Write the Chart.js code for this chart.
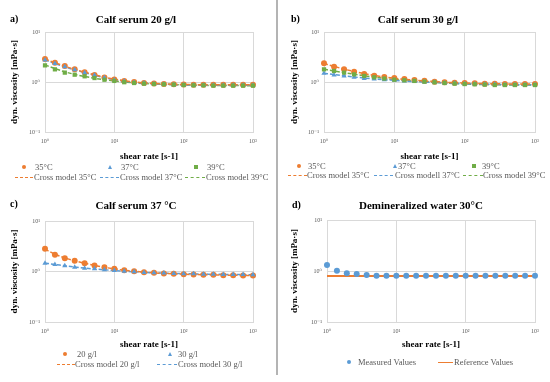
<!DOCTYPE html>
<html>
<head>
<meta charset="utf-8">
<script src="https://cdn.jsdelivr.net/npm/chart.js@4.4.0/dist/chart.umd.min.js"></script>
<style>
  body { margin: 0; width: 550px; height: 382px; background: #fff; position: relative; overflow: hidden;
         font-family: 'Liberation Serif', 'DejaVu Serif', serif; }
  canvas { position: absolute; }
  .letter { position: absolute; font-weight: bold; font-size: 10px; color: #000; line-height: 12px; }
  .title { position: absolute; width: 200px; text-align: center; font-weight: bold; font-size: 11px; color: #000; line-height: 14px; }
  .lg { position: absolute; font-size: 8.5px; color: #595959; white-space: nowrap; line-height: 10px; }
  .mk { position: absolute; }
  .divider { position: absolute; left: 276px; top: 0; width: 1.5px; height: 375px; background: #b4b4b4; }
</style>
</head>
<body>
<div class="divider"></div>
<canvas id="chartA" width="275" height="162" style="left:0;top:0"></canvas>
<canvas id="chartB" width="270" height="162" style="left:280px;top:0"></canvas>
<canvas id="chartC" width="275" height="161" style="left:0;top:189px"></canvas>
<canvas id="chartD" width="270" height="161" style="left:280px;top:189px"></canvas>
<div class="letter" style="left:10px;top:13px">a)</div>
<div class="letter" style="left:291px;top:13px">b)</div>
<div class="letter" style="left:10px;top:198px">c)</div>
<div class="letter" style="left:292px;top:199px">d)</div>
<div class="title" style="left:36px;top:12px">Calf serum 20 g/l</div>
<div class="title" style="left:318px;top:12px">Calf serum 30 g/l</div>
<div class="title" style="left:36px;top:198px">Calf serum 37 °C</div>
<div class="title" style="left:321px;top:198px">Demineralized water 30°C</div>
<script>
// shear rate [s-1], 22 points per measurement
const shearRate = [1, 1.39, 1.93, 2.68, 3.73, 5.18, 7.2, 10, 13.9, 19.3, 26.8, 37.3, 51.8, 72, 100, 139, 193, 268, 373, 518, 720, 1000];
const tickX = [1, 10, 100, 1000];
const tickY = [0.1, 1, 10];
const tickText = { '-1': '10⁻¹', '0': '10⁰', '1': '10¹', '2': '10²', '3': '10³' };

// a) calf serum 20 g/l
const a35 = [2.9, 2.42, 2.08, 1.8, 1.56, 1.38, 1.23, 1.12, 1.05, 1.0, 0.96, 0.93, 0.91, 0.9, 0.89, 0.88, 0.88, 0.88, 0.88, 0.88, 0.88, 0.88];
const a37 = [2.75, 2.35, 2.02, 1.76, 1.53, 1.36, 1.21, 1.1, 1.03, 0.98, 0.95, 0.92, 0.9, 0.88, 0.87, 0.86, 0.86, 0.86, 0.86, 0.86, 0.86, 0.86];
const a39 = [2.15, 1.79, 1.54, 1.4, 1.3, 1.2, 1.11, 1.05, 0.99, 0.955, 0.926, 0.912, 0.898, 0.885, 0.87, 0.858, 0.858, 0.845, 0.845, 0.845, 0.845, 0.845];
const a35Model = [2.88, 2.43, 2.07, 1.79, 1.57, 1.39, 1.25, 1.14, 1.06, 1.0, 0.96, 0.935, 0.915, 0.9, 0.892, 0.886, 0.883, 0.881, 0.88, 0.88, 0.88, 0.88];
const a37Model = [2.76, 2.34, 2.01, 1.75, 1.54, 1.37, 1.22, 1.11, 1.04, 0.985, 0.95, 0.925, 0.905, 0.89, 0.878, 0.87, 0.865, 0.862, 0.86, 0.86, 0.86, 0.86];
const a39Model = [2.2, 1.86, 1.6, 1.42, 1.29, 1.19, 1.11, 1.05, 1.0, 0.96, 0.932, 0.912, 0.896, 0.882, 0.872, 0.864, 0.858, 0.853, 0.85, 0.848, 0.846, 0.845];

// b) calf serum 30 g/l
const b35 = [2.36, 2.03, 1.79, 1.61, 1.45, 1.34, 1.26, 1.2, 1.15, 1.1, 1.06, 1.015, 0.985, 0.97, 0.955, 0.94, 0.926, 0.926, 0.91, 0.91, 0.91, 0.91];
const b37 = [1.49, 1.38, 1.32, 1.24, 1.18, 1.15, 1.11, 1.08, 1.05, 1.02, 1.0, 0.985, 0.955, 0.94, 0.926, 0.91, 0.9, 0.9, 0.885, 0.885, 0.885, 0.885];
const b39 = [1.79, 1.66, 1.54, 1.42, 1.32, 1.24, 1.17, 1.11, 1.08, 1.05, 1.015, 0.985, 0.955, 0.926, 0.91, 0.9, 0.885, 0.87, 0.87, 0.87, 0.87, 0.87];
const b35Model = [2.34, 2.05, 1.81, 1.62, 1.47, 1.35, 1.26, 1.19, 1.13, 1.09, 1.05, 1.02, 0.99, 0.97, 0.955, 0.94, 0.93, 0.922, 0.916, 0.912, 0.91, 0.91];
const b37Model = [1.5, 1.41, 1.33, 1.26, 1.2, 1.15, 1.11, 1.08, 1.05, 1.02, 1.0, 0.98, 0.96, 0.945, 0.93, 0.915, 0.905, 0.897, 0.89, 0.887, 0.885, 0.885];
const b39Model = [1.8, 1.66, 1.54, 1.43, 1.33, 1.25, 1.18, 1.12, 1.08, 1.04, 1.01, 0.98, 0.955, 0.93, 0.912, 0.9, 0.89, 0.88, 0.875, 0.872, 0.87, 0.87];

// c) calf serum 37 °C
const c20 = [2.82, 2.14, 1.84, 1.63, 1.46, 1.32, 1.22, 1.13, 1.06, 1.015, 0.97, 0.94, 0.91, 0.9, 0.885, 0.87, 0.86, 0.86, 0.845, 0.845, 0.83, 0.83];
const c30 = [1.46, 1.38, 1.3, 1.22, 1.16, 1.13, 1.08, 1.05, 1.015, 0.985, 0.955, 0.94, 0.93, 0.91, 0.9, 0.9, 0.885, 0.885, 0.87, 0.87, 0.87, 0.86];
const c20Model = [2.78, 2.2, 1.86, 1.63, 1.46, 1.32, 1.21, 1.13, 1.06, 1.01, 0.97, 0.94, 0.915, 0.898, 0.884, 0.872, 0.863, 0.855, 0.848, 0.842, 0.836, 0.832];
const c30Model = [1.46, 1.38, 1.3, 1.23, 1.17, 1.12, 1.08, 1.045, 1.015, 0.985, 0.96, 0.943, 0.928, 0.915, 0.905, 0.897, 0.89, 0.883, 0.877, 0.872, 0.867, 0.863];

// d) demineralized water 30 °C
const dMeasured = [1.31, 1.01, 0.9, 0.87, 0.835, 0.81, 0.81, 0.81, 0.81, 0.81, 0.81, 0.81, 0.81, 0.81, 0.81, 0.81, 0.81, 0.81, 0.81, 0.81, 0.81, 0.81];
const refRate = [1, 1000];
const dReference = [0.797, 0.797];

const ORANGE = '#ED7D31', BLUE = '#5B9BD5', GREEN = '#70AD47';
const SERIF = "'Liberation Serif', 'DejaVu Serif', serif";

function pts(xs, ys) {
  return xs.map((x, i) => ({ x: x, y: ys[i] }));
}

function markers(label, ys, color, style, order) {
  return { label: label, data: pts(shearRate, ys), pointStyle: style, pointRadius: 3,
           backgroundColor: color, borderColor: color, borderWidth: 0, order: order, clip: false };
}

function model(label, ys, color, order) {
  return { label: label, data: pts(shearRate, ys), showLine: true, pointRadius: 0,
           borderColor: color, borderWidth: 1.5, borderDash: [4, 2],
           cubicInterpolationMode: 'monotone', order: order };
}

function makeChart(id, datasets, layout) {
  return new Chart(document.getElementById(id), {
    type: 'scatter',
    data: { datasets: datasets },
    options: {
      responsive: false,
      animation: false,
      layout: { padding: { left: 0, right: layout.right, top: layout.top, bottom: 0 } },
      plugins: {
        legend: { display: false },
        tooltip: { enabled: false }
      },
      scales: {
        x: {
          type: 'logarithmic', min: 1, max: 1000,
          afterBuildTicks: (s) => { s.ticks = tickX.map(v => ({ value: v })); },
          afterFit: (s) => { s.height = layout.xAxis; },
          grid: { color: '#d9d9d9', drawTicks: false },
          border: { color: '#d9d9d9' },
          ticks: { padding: 6, color: '#595959', font: { family: SERIF, size: 6 },
                   callback: (v) => tickText[Math.round(Math.log10(v))] },
          title: { display: true, text: 'shear rate [s-1]', color: '#000',
                   font: { family: SERIF, size: 9, weight: 'bold' }, padding: 0 }
        },
        y: {
          type: 'logarithmic', min: 0.1, max: 10,
          afterBuildTicks: (s) => { s.ticks = tickY.map(v => ({ value: v })); },
          afterFit: (s) => { s.width = layout.left; },
          grid: { color: '#d9d9d9', drawTicks: false },
          border: { color: '#d9d9d9' },
          ticks: { padding: 5, color: '#595959', font: { family: SERIF, size: 6 },
                   callback: (v) => tickText[Math.round(Math.log10(v))] },
          title: { display: true, text: 'dyn. viscosity [mPa·s]', color: '#000',
                   font: { family: SERIF, size: 9, weight: 'bold' }, padding: { top: 9, bottom: 0 } }
        }
      }
    }
  });
}

makeChart('chartA', [
  markers('39°C', a39, GREEN, 'rect', 1),
  markers('37°C', a37, BLUE, 'triangle', 2),
  markers('35°C', a35, ORANGE, 'circle', 3),
  model('Cross model 35°C', a35Model, ORANGE, 4),
  model('Cross model 37°C', a37Model, BLUE, 5),
  model('Cross model 39°C', a39Model, GREEN, 6)
], { left: 45, right: 22, top: 32, xAxis: 30 });

makeChart('chartB', [
  markers('39°C', b39, GREEN, 'rect', 1),
  markers('37°C', b37, BLUE, 'triangle', 2),
  markers('35°C', b35, ORANGE, 'circle', 3),
  model('Cross model 35°C', b35Model, ORANGE, 4),
  model('Cross modell 37°C', b37Model, BLUE, 5),
  model('Cross model 39°C', b39Model, GREEN, 6)
], { left: 44, right: 15, top: 32, xAxis: 30 });

makeChart('chartC', [
  markers('30 g/l', c30, BLUE, 'triangle', 1),
  markers('20 g/l', c20, ORANGE, 'circle', 2),
  model('Cross model 20 g/l', c20Model, ORANGE, 3),
  model('Cross model 30 g/l', c30Model, BLUE, 4)
], { left: 45, right: 22, top: 32, xAxis: 28 });

makeChart('chartD', [
  markers('Measured Values', dMeasured, BLUE, 'circle', 1),
  { label: 'Reference Values', data: pts(refRate, dReference), showLine: true, pointRadius: 0,
    borderColor: ORANGE, borderWidth: 2, order: 2 }
], { left: 47, right: 15, top: 31, xAxis: 28 });

// legends (html)
function legend(kind, color, x, y, w, textX, text) {
  const m = document.createElement('div');
  m.className = 'mk';
  if (kind === 'circle') {
    m.style.cssText = `left:${x - 2}px;top:${y - 2}px;width:4px;height:4px;border-radius:50%;background:${color}`;
  } else if (kind === 'rect') {
    m.style.cssText = `left:${x - 2}px;top:${y - 2}px;width:4px;height:4px;background:${color}`;
  } else if (kind === 'triangle') {
    m.style.cssText = `left:${x - 2.5}px;top:${y - 2.5}px;width:0;height:0;border-left:2.5px solid transparent;border-right:2.5px solid transparent;border-bottom:4.5px solid ${color}`;
  } else if (kind === 'dash') {
    m.style.cssText = `left:${x}px;top:${y}px;width:${w}px;border-top:1.5px dashed ${color}`;
  } else {
    m.style.cssText = `left:${x}px;top:${y - 0.5}px;width:${w}px;border-top:1.5px solid ${color}`;
  }
  document.body.appendChild(m);
  const t = document.createElement('div');
  t.className = 'lg';
  t.style.left = textX + 'px';
  t.style.top = (y - 5) + 'px';
  t.textContent = text;
  document.body.appendChild(t);
}

legend('circle', ORANGE, 24, 167, 0, 35, '35°C');
legend('triangle', BLUE, 110, 167, 0, 121, '37°C');
legend('rect', GREEN, 196, 167, 0, 207, '39°C');
legend('dash', ORANGE, 15, 177, 18, 34, 'Cross model 35°C');
legend('dash', BLUE, 100, 177, 19, 120, 'Cross model 37°C');
legend('dash', GREEN, 185, 177, 20, 206, 'Cross model 39°C');

legend('circle', ORANGE, 299, 166, 0, 308, '35°C');
legend('triangle', BLUE, 395, 166, 0, 398, '37°C');
legend('rect', GREEN, 474, 166, 0, 482, '39°C');
legend('dash', ORANGE, 288, 175, 19, 307, 'Cross model 35°C');
legend('dash', BLUE, 374, 175, 19, 395, 'Cross modell 37°C');
legend('dash', GREEN, 463, 175, 20, 483, 'Cross model 39°C');

legend('circle', ORANGE, 65, 354, 0, 77, '20 g/l');
legend('triangle', BLUE, 170, 354, 0, 178, '30 g/l');
legend('dash', ORANGE, 57, 364, 18, 75, 'Cross model 20 g/l');
legend('dash', BLUE, 157, 364, 20, 178, 'Cross model 30 g/l');

legend('circle', BLUE, 349, 362, 0, 358, 'Measured Values');
legend('line', ORANGE, 438, 362, 15, 454, 'Reference Values');
</script>
</body>
</html>
